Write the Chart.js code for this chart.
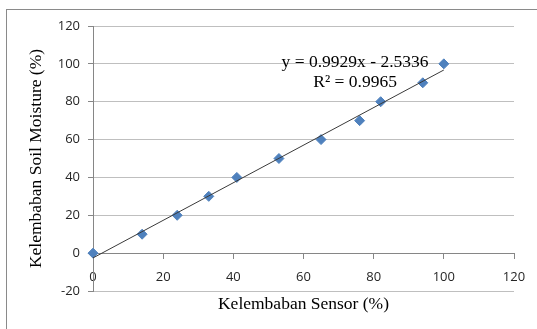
<!DOCTYPE html>
<html>
<head>
<meta charset="utf-8">
<script src="https://cdn.jsdelivr.net/npm/chart.js@4"></script>
<style>
  html, body { margin: 0; padding: 0; background: #ffffff; overflow: hidden; }
  #wrap { position: relative; width: 537px; height: 329px; }
  #frame { position: absolute; left: 6px; top: 9px; width: 600px; height: 400px; border: 1px solid #8a8a8a; box-sizing: border-box; }
  canvas { position: absolute; left: 0; top: 0; }
</style>
</head>
<body>
<div id="wrap">
  <div id="frame"></div>
  <canvas id="c" width="537" height="329"></canvas>
</div>
<script>
// Data
const sensorValues = [0, 14, 24, 33, 41, 53, 65, 76, 82, 94, 100];
const soilMoisture = [0, 10, 20, 30, 40, 50, 60, 70, 80, 90, 100];
const trendX = [0, 100];
const trendY = [-2.53, 96.76];
const xTicks = [0, 20, 40, 60, 80, 100, 120];
const yTicks = [-20, 0, 20, 40, 60, 80, 100, 120];
const equationText = 'y = 0.9929x - 2.5336';
const r2Text = 'R\u00B2 = 0.9965';
const xTitle = 'Kelembaban Sensor (%)';
const yTitle = 'Kelembaban Soil Moisture (%)';

const points = sensorValues.map((x, i) => ({ x: x, y: soilMoisture[i] }));
const trend = trendX.map((x, i) => ({ x: x, y: trendY[i] }));

const tickFont = { family: '"Open Sans", "Liberation Sans", sans-serif', size: 13 };
const titleFont = { family: '"Liberation Serif", "Times New Roman", serif', size: 17.5 };

const equationPlugin = {
  id: 'equation',
  afterDatasetsDraw(chart) {
    const ctx = chart.ctx;
    const xs = chart.scales.x, ys = chart.scales.y;
    ctx.save();
    ctx.font = '17.5px "Liberation Serif", "Times New Roman", serif';
    ctx.fillStyle = '#000000';
    ctx.textAlign = 'center';
    ctx.textBaseline = 'middle';
    ctx.fillText(equationText, xs.getPixelForValue(74.7), ys.getPixelForValue(100.8));
    ctx.fillText(r2Text, xs.getPixelForValue(74.7), ys.getPixelForValue(90.2));
    ctx.restore();
  }
};

new Chart(document.getElementById('c'), {
  type: 'scatter',
  data: {
    datasets: [
      {
        label: 'trend',
        data: trend,
        showLine: true,
        borderColor: '#3a3a3a',
        borderWidth: 1,
        pointRadius: 0,
        fill: false,
        clip: false
      },
      {
        label: 'data',
        data: points,
        pointStyle: 'rectRot',
        pointRadius: 5,
        pointBackgroundColor: '#4F81BD',
        pointBorderColor: '#4F81BD',
        pointBorderWidth: 1,
        showLine: false,
        clip: false
      }
    ]
  },
  options: {
    responsive: false,
    animation: false,
    devicePixelRatio: 1,
    layout: { padding: { left: 0, right: 23, top: 26, bottom: 38 } },
    plugins: { legend: { display: false }, tooltip: { enabled: false } },
    scales: {
      x: {
        type: 'linear',
        position: { y: 0 },
        min: 0, max: 120,
        afterBuildTicks(scale) { scale.ticks = xTicks.map(v => ({ value: v })); },
        ticks: { font: tickFont, color: '#262626', padding: 11, maxRotation: 0 },
        grid: { drawOnChartArea: false, drawTicks: true, tickLength: 5, tickColor: '#868686' },
        border: { display: true, color: '#868686', width: 1 },
        title: { display: true, text: xTitle, font: titleFont, color: '#000000', padding: { top: 0, bottom: 2 } },
        afterFit(scale) { scale.height = 64; }
      },
      y: {
        type: 'linear',
        position: 'left',
        min: -20, max: 120,
        afterBuildTicks(scale) { scale.ticks = yTicks.map(v => ({ value: v })); },
        ticks: { font: tickFont, color: '#262626', padding: 8 },
        grid: { color: '#bfbfbf', lineWidth: 1, drawTicks: true, tickLength: 5, tickColor: '#868686' },
        border: { display: true, color: '#868686', width: 1 },
        title: { display: true, text: yTitle, font: titleFont, color: '#000000', padding: { top: 26, bottom: 0 } },
        afterFit(scale) { scale.width = 93; }
      }
    }
  },
  plugins: [equationPlugin]
});
</script>
</body>
</html>
